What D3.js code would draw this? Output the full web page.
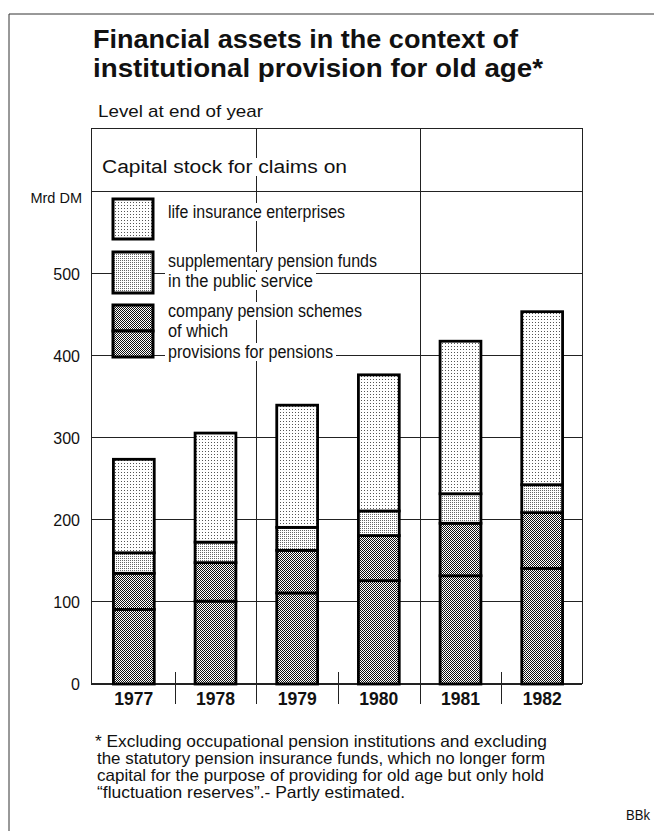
<!DOCTYPE html>
<html>
<head>
<meta charset="utf-8">
<script src="https://cdn.jsdelivr.net/npm/d3@7"></script>
<style>
  html, body { margin: 0; padding: 0; background: #fff; }
  svg { display: block; font-family: "Liberation Sans", Arial, Helvetica, sans-serif; }
</style>
</head>
<body>
<script>
// ---------------- data ----------------
const years = ["1977", "1978", "1979", "1980", "1981", "1982"];
// Mrd DM, level at end of year
const provisionsForPensions = [91, 101, 111, 126, 132, 141];   // "of which" part of company schemes
const companyPensionSchemes = [135, 148, 163, 181, 196, 209];  // total company pension schemes
const supplementaryPublic   = [25, 25, 28, 30, 36, 34];
const lifeInsurance         = [114, 133, 149, 166, 186, 211];
const yTickValues = [0, 100, 200, 300, 400, 500];
const gridValues  = [100, 200, 300, 400, 500, 600];

const titleLines = ["Financial assets in the context of", "institutional provision for old age*"];
const subtitle = "Level at end of year";
const legendHeader = "Capital stock for claims on";
const unitLabel = "Mrd DM";
const footnoteLines = [
  "* Excluding occupational pension institutions and excluding",
  "the statutory pension insurance funds, which no longer form",
  "capital for the purpose of providing for old age but only hold",
  "\u201Cfluctuation reserves\u201D.- Partly estimated."
];
const sourceLabel = "BBk";

// ---------------- layout ----------------
const W = 654, H = 831;
const frameL = 91, frameR = 582, baseY = 684, topY = 128;

const rows = years.map((yr, i) => ({
  year: yr,
  provisions: provisionsForPensions[i],
  companyOther: companyPensionSchemes[i] - provisionsForPensions[i],
  supplementary: supplementaryPublic[i],
  life: lifeInsurance[i]
}));
const keys = ["provisions", "companyOther", "supplementary", "life"];
const stacked = d3.stack().keys(keys)(rows);

const x = d3.scaleBand().domain(years).range([93, 583]).paddingInner(0.5).paddingOuter(0.25);
const y = d3.scaleLinear().domain([0, 678]).range([baseY, topY]);

const svg = d3.select("body").append("svg").attr("width", W).attr("height", H);

// ---------------- patterns ----------------
const defs = svg.append("defs");
function makePattern(id, size, dots, color) {
  const p = defs.append("pattern").attr("id", id)
    .attr("patternUnits", "userSpaceOnUse").attr("width", size).attr("height", size);
  p.append("rect").attr("width", size).attr("height", size).attr("fill", "#fff");
  dots.forEach(d => p.append("rect").attr("x", d[0]).attr("y", d[1])
    .attr("width", 1).attr("height", 1).attr("fill", color));
}
makePattern("pLife", 3, [[1, 1]], "#555");
makePattern("pSupp", 2, [[0, 0]], "#666");
makePattern("pComp", 2, [[0, 0], [1, 1]], "#111");
const fillFor = { provisions: "url(#pComp)", companyOther: "url(#pComp)", supplementary: "url(#pSupp)", life: "url(#pLife)" };

// ---------------- outer frame ----------------
svg.append("line").attr("x1", 9).attr("x2", W).attr("y1", 14).attr("y2", 14)
  .attr("stroke", "#333").attr("stroke-width", 1);
svg.append("line").attr("x1", 9).attr("x2", 9).attr("y1", 14).attr("y2", H)
  .attr("stroke", "#333").attr("stroke-width", 1);

// ---------------- titles ----------------
svg.selectAll("text.title").data(titleLines).join("text")
  .attr("class", "title")
  .attr("x", 93).attr("y", (d, i) => 48 + i * 29)
  .attr("font-size", 25).attr("font-weight", "bold").attr("fill", "#111")
  .attr("textLength", (d, i) => i === 0 ? 425 : 450)
  .attr("lengthAdjust", "spacingAndGlyphs")
  .text(d => d);

svg.append("text").attr("x", 98).attr("y", 117)
  .attr("font-size", 17).attr("fill", "#111")
  .attr("textLength", 165).attr("lengthAdjust", "spacingAndGlyphs")
  .text(subtitle);

// ---------------- grid & frame ----------------
const grid = svg.append("g").attr("stroke", "#222").attr("stroke-width", 1).attr("shape-rendering", "crispEdges");
grid.selectAll("line.h").data(gridValues).join("line").attr("class", "h")
  .attr("x1", frameL).attr("x2", frameR).attr("y1", d => y(d)).attr("y2", d => y(d));

// slot boundaries
const step = x.step();
const bounds = years.slice(1).map((yr, i) => x(yr) - step * x.paddingInner() / 2);
grid.selectAll("line.v").data(bounds).join("line").attr("class", "v")
  .attr("x1", d => Math.round(d)).attr("x2", d => Math.round(d))
  .attr("y1", (d, i) => (i % 2 === 1) ? topY : baseY - 12)
  .attr("y2", baseY + 20);

// frame
grid.append("line").attr("x1", frameL).attr("x2", frameR).attr("y1", topY).attr("y2", topY);
grid.append("line").attr("x1", frameL).attr("x2", frameL).attr("y1", topY).attr("y2", baseY);
grid.append("line").attr("x1", frameR).attr("x2", frameR).attr("y1", topY).attr("y2", baseY);
grid.append("line").attr("x1", frameL).attr("x2", frameR).attr("y1", baseY).attr("y2", baseY)
  .attr("stroke-width", 1.5);

// ---------------- y axis ----------------
const yAxis = svg.append("g").attr("transform", `translate(${frameL},0)`)
  .call(d3.axisLeft(y).tickValues(yTickValues).tickSize(0).tickPadding(11));
yAxis.select(".domain").remove();
yAxis.selectAll("text").attr("font-size", 16).attr("fill", "#111")
  .attr("font-family", "'Liberation Sans', Arial, sans-serif");

svg.append("text").attr("x", 82).attr("y", 203).attr("text-anchor", "end")
  .attr("font-size", 14.5).attr("fill", "#111").text(unitLabel);

// ---------------- legend ----------------
function maskedText(parent, tx, ty, len, size, str) {
  const g = parent.append("g");
  const bg = g.append("rect").attr("fill", "#fff");
  const t = g.append("text").attr("x", tx).attr("y", ty)
    .attr("font-size", size).attr("fill", "#111")
    .attr("textLength", len).attr("lengthAdjust", "spacingAndGlyphs")
    .text(str);
  const b = t.node().getBBox();
  bg.attr("x", b.x - 3).attr("y", b.y + 1).attr("width", b.width + 6).attr("height", b.height - 2);
}

const lg = svg.append("g");
maskedText(lg, 102, 173, 245, 18, legendHeader);

const legendItems = [
  { fill: "url(#pLife)", y0: 199, y1: 239, lines: [["life insurance enterprises", 218, 177]] },
  { fill: "url(#pSupp)", y0: 252, y1: 293, lines: [["supplementary pension funds", 267, 209], ["in the public service", 287, 145]] },
  { fill: "url(#pComp)", y0: 305, y1: 331, lines: [["company pension schemes", 317, 194], ["of which", 337, 60], ["provisions for pensions", 358, 165]] },
  { fill: "url(#pComp)", y0: 331, y1: 357, lines: [] }
];
legendItems.forEach(item => {
  item.lines.forEach(l => maskedText(lg, 168, l[1], l[2], 18, l[0]));
});
legendItems.forEach(item => {
  lg.append("rect").attr("x", 113).attr("y", item.y0)
    .attr("width", 40).attr("height", item.y1 - item.y0)
    .attr("fill", item.fill).attr("stroke", "#000").attr("stroke-width", 3);
});

// ---------------- bars ----------------
const bars = svg.append("g");
stacked.forEach(layer => {
  bars.selectAll(null).data(layer).join("rect")
    .attr("x", d => x(d.data.year))
    .attr("width", x.bandwidth())
    .attr("y", d => y(d[1]))
    .attr("height", d => y(d[0]) - y(d[1]))
    .attr("fill", fillFor[layer.key])
    .attr("stroke", "#000").attr("stroke-width", 2.8);
});

// ---------------- x axis labels ----------------
const xAxis = svg.append("g").attr("transform", `translate(0,${baseY})`)
  .call(d3.axisBottom(x).tickSize(0).tickPadding(8));
xAxis.select(".domain").remove();
xAxis.selectAll("text").attr("font-size", 18).attr("font-weight", "bold").attr("fill", "#111")
  .attr("font-family", "'Liberation Sans', Arial, sans-serif")
  .attr("textLength", 39).attr("lengthAdjust", "spacingAndGlyphs");

// ---------------- footnote ----------------
const fnX = [95, 97, 97, 97], fnLen = [452, 448, 447, 308];
svg.selectAll("text.fn").data(footnoteLines).join("text").attr("class", "fn")
  .attr("x", (d, i) => fnX[i]).attr("y", (d, i) => 747 + i * 17)
  .attr("font-size", 16.5).attr("fill", "#111")
  .attr("textLength", (d, i) => fnLen[i]).attr("lengthAdjust", "spacingAndGlyphs")
  .text(d => d);

svg.append("text").attr("x", 626).attr("y", 820)
  .attr("font-size", 14).attr("fill", "#111")
  .attr("textLength", 24).attr("lengthAdjust", "spacingAndGlyphs")
  .text(sourceLabel);
</script>
</body>
</html>
